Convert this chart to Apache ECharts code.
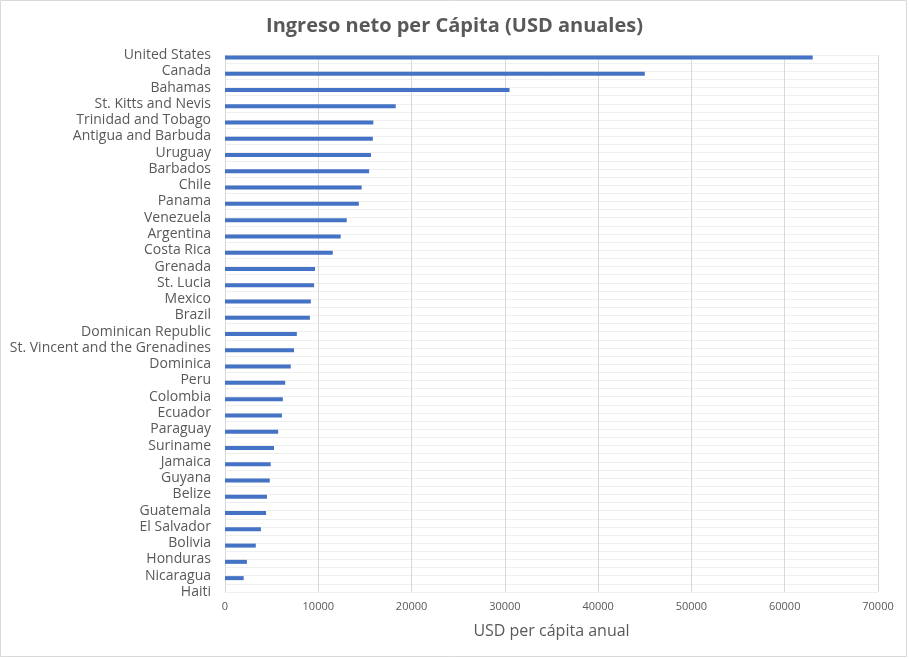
<!DOCTYPE html>
<html>
<head>
<meta charset="utf-8">
<script src="https://cdn.jsdelivr.net/npm/echarts@6/dist/echarts.min.js"></script>
<style>
html,body{margin:0;padding:0;background:#fff;}
#chart{width:909px;height:659px;}
</style>
</head>
<body>
<div id="chart"></div>
<script>
const titleText = 'Ingreso neto per Cápita (USD anuales)';
const axisName = 'USD per cápita anual';
const countries = ['United States','Canada','Bahamas','St. Kitts and Nevis','Trinidad and Tobago','Antigua and Barbuda','Uruguay','Barbados','Chile','Panama','Venezuela','Argentina','Costa Rica','Grenada','St. Lucia','Mexico','Brazil','Dominican Republic','St. Vincent and the Grenadines','Dominica','Peru','Colombia','Ecuador','Paraguay','Suriname','Jamaica','Guyana','Belize','Guatemala','El Salvador','Bolivia','Honduras','Nicaragua','Haiti'];
const incomePerCapita = [63000,45000,30500,18300,15900,15850,15650,15450,14650,14350,13050,12400,11550,9650,9550,9200,9100,7700,7400,7050,6450,6200,6100,5700,5250,4900,4800,4500,4400,3850,3300,2350,2000,null];
const xTicks = [0,10000,20000,30000,40000,50000,60000,70000];

const chart = echarts.init(document.getElementById('chart'), null, {renderer:'canvas'});
const font = '"Open Sans", sans-serif';
const gray = '#595959';
chart.setOption({
  animation:false,
  backgroundColor:'#ffffff',
  graphic:[{type:'rect',shape:{x:0.5,y:0.5,width:906,height:656},style:{fill:'none',stroke:'#d9d9d9',lineWidth:1},silent:true,z:-10}],
  title:{text:titleText,left:'center',top:11,textStyle:{fontFamily:font,fontSize:20,fontWeight:'bold',color:gray}},
  grid:{left:225,right:31,top:55,bottom:67,containLabel:false},
  xAxis:{type:'value',min:xTicks[0],max:xTicks[xTicks.length-1],interval:xTicks[1]-xTicks[0],
    axisLine:{show:false},axisTick:{show:false},
    splitLine:{show:true,lineStyle:{color:'#d9d9d9',width:1}},
    axisLabel:{fontFamily:font,fontSize:11,color:gray,margin:9,formatter:(v)=>String(v)},
    name:axisName,nameLocation:'middle',nameGap:31,
    nameTextStyle:{fontFamily:font,fontSize:16,color:gray}},
  yAxis:[
    {type:'category',data:countries,inverse:true,boundaryGap:false,
     axisLine:{show:false},axisTick:{show:false},splitLine:{show:false},
     axisLabel:{fontFamily:font,fontSize:14,color:gray,margin:14,interval:0}},
    {type:'value',min:0,max:(countries.length-1)*2,interval:1,position:'left',
     axisLine:{show:false},axisTick:{show:false},axisLabel:{show:false},
     splitLine:{show:true,lineStyle:{color:'#efefef',width:1}}}
  ],
  series:[
    {name:'spacer',type:'bar',yAxisIndex:0,data:countries.map(()=>'-'),barWidth:4,barGap:'20%'},
    {name:'Ingreso',type:'bar',yAxisIndex:0,data:incomePerCapita,barWidth:4,barGap:'20%',
     itemStyle:{color:'#4472C4'}}
  ]
});
</script>
</body>
</html>
